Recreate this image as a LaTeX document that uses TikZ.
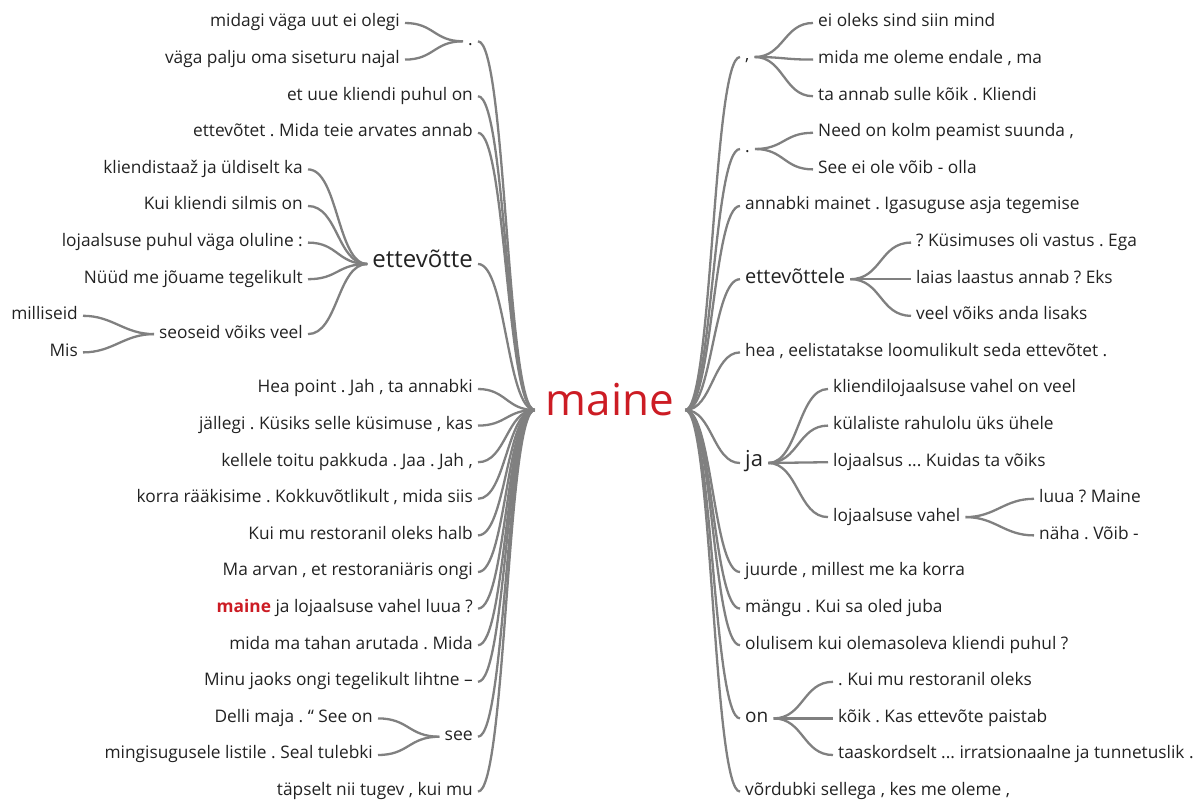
\documentclass[tikz,border=0pt]{standalone}
\usepackage{fontspec}
\setmainfont{Open Sans}
\frenchspacing
\definecolor{txt}{RGB}{34,34,34}
\definecolor{lnk}{RGB}{128,128,128}
\definecolor{hot}{RGB}{204,28,36}
\tikzset{
  w/.style={font=\fontsize{17.3}{20}\selectfont, text=txt, inner xsep=5pt, inner ysep=0pt,
            text height=1.0em, text depth=0.22em},
  wl/.style={w, anchor=east},
  wr/.style={w, anchor=west},
  sz/.style={font=\fontsize{#1}{#1}\selectfont},
  conn/.style={draw=lnk, line width=2.3pt, out=0, in=180, distance=#1},
  conn/.default=30pt
}
\begin{document}
\begin{tikzpicture}[x=1pt,y=-1pt]
\useasboundingbox (0,0) rectangle (1200,803);

% root word
\node[font=\fontsize{44}{44}\selectfont, text=hot, inner xsep=11pt, inner ysep=0pt,
      text height=1em, text depth=0pt] (maine) at (610,410) {maine};

% ---------- left side ----------
\node[wl] (dotL) at (478,41.3) {.};
\node[wl] (midagi) at (405,23) {midagi väga uut ei olegi};
\node[wl] (vaga) at (405,59.6) {väga palju oma siseturu najal};
\node[wl] (etuue) at (478,96.2) {et uue kliendi puhul on};
\node[wl] (ettevotet) at (478,132.8) {ettevõtet . Mida teie arvates annab};
\node[wl, sz=24] (ettevotte) at (478,264) {ettevõtte};
\node[wl] (kliendist) at (308,169.4) {kliendistaaž ja üldiselt ka};
\node[wl] (kuikl) at (308,206) {Kui kliendi silmis on};
\node[wl] (lojpuhul) at (308,242.6) {lojaalsuse puhul väga oluline :};
\node[wl] (nuud) at (308,279.2) {Nüüd me jõuame tegelikult};
\node[wl] (seoseid) at (308,334.1) {seoseid võiks veel};
\node[wl] (milliseid) at (83,315.8) {milliseid};
\node[wl] (mis) at (83,352.4) {Mis};
\node[wl] (heapoint) at (478,389) {Hea point . Jah , ta annabki};
\node[wl] (jallegi) at (478,425.6) {jällegi . Küsiks selle küsimuse , kas};
\node[wl] (kellele) at (478,462.2) {kellele toitu pakkuda . Jaa . Jah ,};
\node[wl] (korra) at (478,498.8) {korra rääkisime . Kokkuvõtlikult , mida siis};
\node[wl] (kuimuL) at (478,535.4) {Kui mu restoranil oleks halb};
\node[wl] (maarvan) at (478,572) {Ma arvan , et restoraniäris ongi};
\node[wl] (mainej) at (478,608.6) {\textbf{\textcolor{hot}{maine}} ja lojaalsuse vahel luua ?};
\node[wl] (midama) at (478,645.2) {mida ma tahan arutada . Mida};
\node[wl] (minu) at (478,681.8) {Minu jaoks ongi tegelikult lihtne –};
\node[wl, sz=17.6] (see) at (478,736.7) {see};
\node[wl] (delli) at (378,718.4) {Delli maja . “ See on};
\node[wl] (mingi) at (378,755) {mingisugusele listile . Seal tulebki};
\node[wl] (tapselt) at (478,791.6) {täpselt nii tugev , kui mu};

% ---------- right side ----------
\node[wr] (comma) at (740,57) {,};
\node[wr] (eioleks) at (813,23) {ei oleks sind siin mind};
\node[wr] (midame) at (813,59.6) {mida me oleme endale , ma};
\node[wr] (taannab) at (813,96.2) {ta annab sulle kõik . Kliendi};
\node[wr] (dotR) at (740,149) {.};
\node[wr] (needon) at (813,132.8) {Need on kolm peamist suunda ,};
\node[wr] (seeei) at (813,169.4) {See ei ole võib - olla};
\node[wr] (annabki) at (740,206) {annabki mainet . Igasuguse asja tegemise};
\node[wr, sz=20] (ettevottele) at (740,279.2) {ettevõttele};
\node[wr] (kysim) at (911,242.6) {? Küsimuses oli vastus . Ega};
\node[wr] (laias) at (911,279.2) {laias laastus annab ? Eks};
\node[wr] (veel) at (911,315.8) {veel võiks anda lisaks};
\node[wr] (heaR) at (740,352.4) {hea , eelistatakse loomulikult seda ettevõtet .};
\node[wr, sz=22] (ja) at (740,463) {ja};
\node[wr] (kliendiloj) at (828,389) {kliendilojaalsuse vahel on veel};
\node[wr] (kylal) at (828,425.6) {külaliste rahulolu üks ühele};
\node[wr] (lojaalsus) at (828,462.2) {lojaalsus ... Kuidas ta võiks};
\node[wr] (lojvahel) at (828,517.1) {lojaalsuse vahel};
\node[wr] (luua) at (1034,498.8) {luua ? Maine};
\node[wr] (naha) at (1034,535.4) {näha . Võib -};
\node[wr] (juurde) at (740,572) {juurde , millest me ka korra};
\node[wr] (mangu) at (740,608.6) {mängu . Kui sa oled juba};
\node[wr] (olulisem) at (740,645.2) {olulisem kui olemasoleva kliendi puhul ?};
\node[wr, sz=19] (on) at (740,718.4) {on};
\node[wr] (kuimuR) at (833,681.8) {. Kui mu restoranil oleks};
\node[wr] (koik) at (833,718.4) {kõik . Kas ettevõte paistab};
\node[wr] (taaskord) at (833,755) {taaskordselt ... irratsionaalne ja tunnetuslik .};
\node[wr] (vordubki) at (740,791.6) {võrdubki sellega , kes me oleme ,};

% ---------- connectors ----------
\foreach \n in {dotL, etuue, ettevotet, ettevotte, heapoint, jallegi, kellele, korra,
                kuimuL, maarvan, mainej, midama, minu, see, tapselt}
  \draw[conn=28pt] (\n.east) to (maine.west);
\foreach \n in {midagi, vaga} \draw[conn=29pt] (\n.east) to (dotL.west);
\foreach \n in {kliendist, kuikl, lojpuhul, nuud, seoseid} \draw[conn] (\n.east) to (ettevotte.west);
\foreach \n in {milliseid, mis} \draw[conn] (\n.east) to (seoseid.west);
\foreach \n in {delli, mingi} \draw[conn=31pt] (\n.east) to (see.west);

\foreach \n in {comma, dotR, annabki, ettevottele, heaR, ja, juurde, mangu, olulisem, on, vordubki}
  \draw[conn=27pt] (maine.east) to (\n.west);
\foreach \n in {eioleks, midame, taannab} \draw[conn=29pt] (comma.east) to (\n.west);
\foreach \n in {needon, seeei} \draw[conn=29pt] (dotR.east) to (\n.west);
\foreach \n in {kysim, laias, veel} \draw[conn=31pt] (ettevottele.east) to (\n.west);
\foreach \n in {kliendiloj, kylal, lojaalsus, lojvahel} \draw[conn] (ja.east) to (\n.west);
\foreach \n in {luua, naha} \draw[conn] (lojvahel.east) to (\n.west);
\foreach \n in {kuimuR, koik, taaskord} \draw[conn] (on.east) to (\n.west);
\end{tikzpicture}
\end{document}
